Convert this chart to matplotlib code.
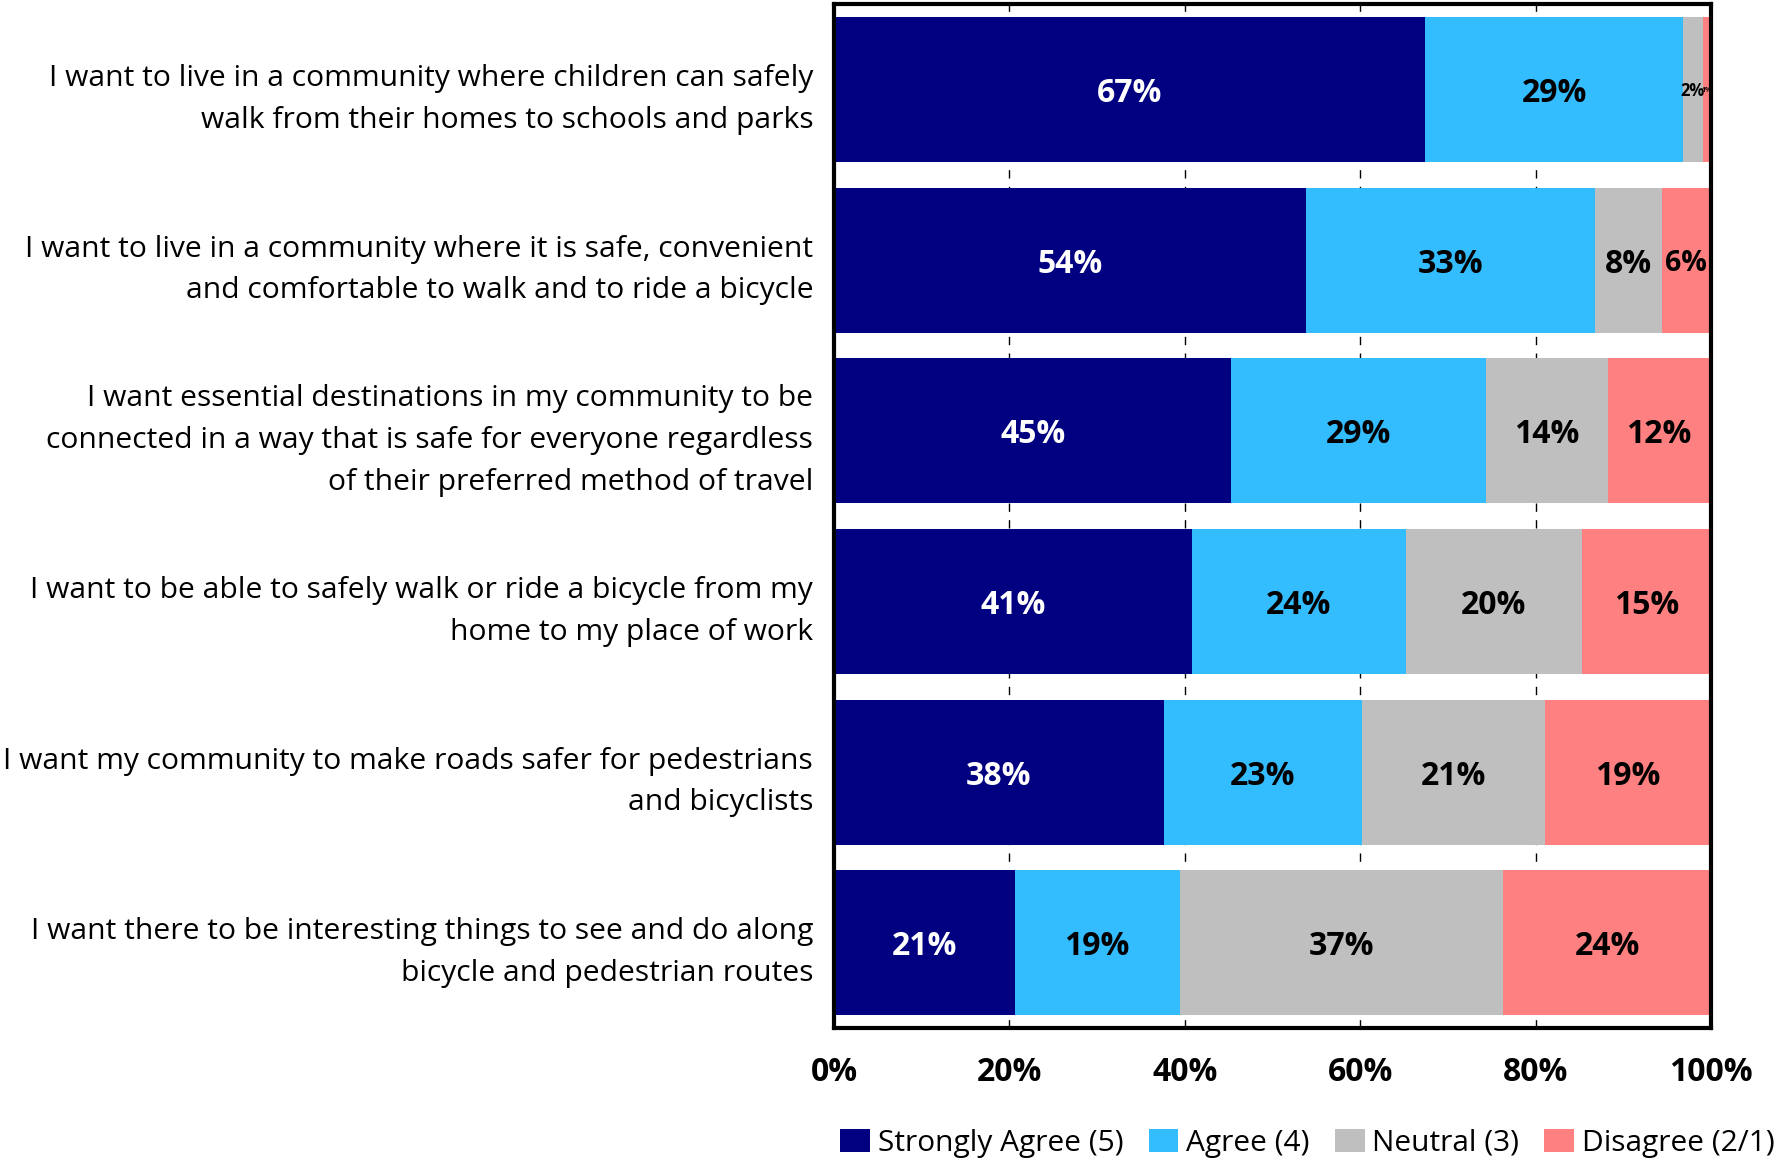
import matplotlib.pyplot as plt
from matplotlib.transforms import ScaledTranslation
import numpy as np

statements = [
    "I want to live in a community where children can safely\nwalk from their homes to schools and parks",
    "I want to live in a community where it is safe, convenient\nand comfortable to walk and to ride a bicycle",
    "I want essential destinations in my community to be\nconnected in a way that is safe for everyone regardless\nof their preferred method of travel",
    "I want to be able to safely walk or ride a bicycle from my\nhome to my place of work",
    "I want my community to make roads safer for pedestrians\nand bicyclists",
    "I want there to be interesting things to see and do along\nbicycle and pedestrian routes",
]
strongly_agree = [67.4, 53.8, 45.3, 40.8, 37.6, 20.6]
agree = [29.4, 33.0, 29.0, 24.4, 22.6, 18.8]
neutral = [2.3, 7.6, 13.9, 20.1, 20.9, 36.9]
disagree = [0.9, 5.6, 11.8, 14.7, 18.9, 23.7]
series_names = ["Strongly Agree (5)", "Agree (4)", "Neutral (3)", "Disagree (2/1)"]
colors = ["#000080", "#33BDFF", "#BFBFBF", "#FF8080"]
text_colors = ["white", "black", "black", "black"]
xticks = [0, 20, 40, 60, 80, 100]

fig = plt.figure(figsize=(17.86, 11.59), dpi=100)
ax = fig.add_axes([0.467, 0.113, 0.491, 0.8835])

y = np.arange(len(statements))
left = np.zeros(len(statements))
series = [strongly_agree, agree, neutral, disagree]
for vals, name, col, tc in zip(series, series_names, colors, text_colors):
    vals = np.array(vals)
    bars = ax.barh(y, vals, left=left, height=0.85, color=col, label=name, zorder=2)
    for b, v, l in zip(bars, vals, left):
        # smaller text for the narrow segments
        if v >= 7:
            size = 23
        elif v >= 5:
            size = 20.5
        elif v >= 2:
            size = 12
        else:
            size = 5
        ax.text(l + v / 2, b.get_y() + b.get_height() / 2, f"{v:.0f}%", ha="center",
                va="center_baseline", color=tc, fontsize=size, fontweight="bold",
                family="Open Sans", zorder=3)
    left = left + vals

ax.set_xlim(0, 100)
ax.set_ylim(len(statements) - 0.5, -0.5)
ax.set_xticks(xticks)
ax.set_xticklabels([f"{t}%" for t in xticks], fontsize=23, fontweight="bold", family="Open Sans")
ax.set_yticks(y)
ax.set_yticklabels(statements, fontsize=21.6, family="Open Sans", linespacing=1.58)
for lab in ax.get_yticklabels():
    lab.set_transform(lab.get_transform() + ScaledTranslation(0, 6 / 72, fig.dpi_scale_trans))
ax.tick_params(axis="x", length=0, pad=20)
ax.tick_params(axis="y", length=0, pad=15)
ax.xaxis.grid(True, color="black", linestyle=(0, (6, 6)), linewidth=1, zorder=0)
ax.set_axisbelow(True)
for s in ax.spines.values():
    s.set_linewidth(3)
    s.set_color("black")

fig.legend(loc="center", bbox_to_anchor=(0.732, 0.0135), ncol=4, frameon=False,
           prop={"family": "Open Sans", "size": 21.5}, handlelength=1.0, handleheight=0.8,
           handletextpad=0.25, columnspacing=0.85, borderaxespad=0)

fig.savefig("out.png", dpi=100)
